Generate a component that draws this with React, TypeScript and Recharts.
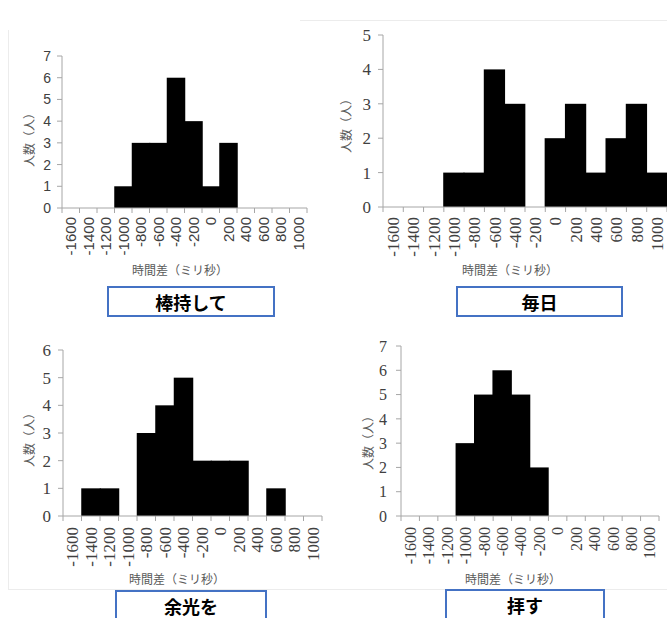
import React from "react";
import { Bar, BarChart, XAxis, YAxis } from "recharts";

const bins = ["-1600", "-1400", "-1200", "-1000", "-800", "-600", "-400", "-200", "0", "200", "400", "600", "800", "1000"];

const bouMochiCounts = [0, 0, 0, 1, 3, 3, 6, 4, 1, 3, 0, 0, 0, 0];
const mainichiCounts = [0, 0, 0, 1, 1, 4, 3, 0, 2, 3, 1, 2, 3, 1];
const yokouCounts = [0, 1, 1, 0, 3, 4, 5, 2, 2, 2, 0, 1, 0, 0];
const haisuCounts = [0, 0, 0, 3, 5, 6, 5, 2, 0, 0, 0, 0, 0, 0];

const titles = ["棒持して", "毎日", "余光を", "拝す"];
const xLabel = "時間差（ミリ秒）";
const yLabel = "人数（人）";

const SANS = "'Liberation Sans', Arial, sans-serif";
const SERIF = "'Liberation Serif', 'Times New Roman', serif";
const CJK = "'Noto Sans CJK JP', sans-serif";
const AXIS = "#a6a6a6";
const TEXT = "#404040";

type Panel = {
  counts: number[];
  yMax: number;
  title: string;
  left: number;
  top: number;
  width: number;
  height: number;
  margin: { top: number; right: number; bottom: number; left: number };
  yWidth: number;
  font: string;
  xSize: number;
  ySize: number;
  xGap: number;
  yMargin: number;
  yLab: [number, number];
  xLab: [number, number];
  box: [number, number, number, number];
};

const panels: Panel[] = [
  {
    counts: bouMochiCounts, yMax: 7, title: titles[0],
    left: 0, top: 0, width: 330, height: 300,
    margin: { top: 56, right: 23, bottom: 32, left: 0 }, yWidth: 62,
    font: SANS, xSize: 15, ySize: 14, xGap: 9, yMargin: 6,
    yLab: [28, 137], xLab: [180, 269], box: [107, 286, 168, 31],
  },
  {
    counts: mainichiCounts, yMax: 5, title: titles[1],
    left: 330, top: 0, width: 337, height: 300,
    margin: { top: 35, right: 0, bottom: 33, left: 0 }, yWidth: 53,
    font: SERIF, xSize: 17, ySize: 17, xGap: 10, yMargin: 7,
    yLab: [345, 123], xLab: [510, 269], box: [456, 286, 167, 31],
  },
  {
    counts: yokouCounts, yMax: 6, title: titles[2],
    left: 0, top: 309, width: 330, height: 309,
    margin: { top: 41, right: 8, bottom: 42, left: 0 }, yWidth: 63,
    font: SERIF, xSize: 17, ySize: 17, xGap: 11, yMargin: 7,
    yLab: [28, 437], xLab: [177, 578], box: [115, 590, 152, 31],
  },
  {
    counts: haisuCounts, yMax: 7, title: titles[3],
    left: 330, top: 309, width: 337, height: 309,
    margin: { top: 37, right: 8, bottom: 42, left: 0 }, yWidth: 71,
    font: SERIF, xSize: 16, ySize: 16, xGap: 11, yMargin: 9,
    yLab: [367, 440], xLab: [513, 578], box: [445, 589, 160, 31],
  },
];

function XTick(props: any) {
  const { x, y, payload, index, bw, font, size, gap } = props;
  const last = index === bins.length - 1;
  return (
    <g>
      <line x1={x - bw / 2} x2={x - bw / 2} y1={y} y2={y + 5} stroke={AXIS} />
      {last && <line x1={x + bw / 2} x2={x + bw / 2} y1={y} y2={y + 5} stroke={AXIS} />}
      <text
        x={x}
        y={y + gap}
        transform={`rotate(-90 ${x} ${y + gap})`}
        textAnchor="end"
        dy="0.35em"
        fontFamily={font}
        fontSize={size}
        fill={TEXT}
      >
        {payload.value}
      </text>
    </g>
  );
}

// full-width histogram bin, centred on the library's band position
function BinShape(props: any) {
  const { x, y, width, height, bw } = props;
  if (!height || height <= 0) return null;
  const cx = x + width / 2;
  return <rect x={cx - bw / 2 - 0.5} y={y} width={bw + 1} height={height} fill="#000" />;
}

function Histogram({ p }: { p: Panel }) {
  const data = bins.map((b, i) => ({ bin: b, count: p.counts[i] }));
  const plotW = p.width - p.margin.left - p.margin.right - p.yWidth;
  const bw = plotW / bins.length;
  const yTicks = Array.from({ length: p.yMax + 1 }, (_, i) => i);
  return (
    <div style={{ position: "absolute", left: p.left, top: p.top }}>
      <BarChart width={p.width} height={p.height} data={data} margin={p.margin} barCategoryGap={0} barGap={0}>
        <XAxis
          dataKey="bin"
          interval={0}
          height={60}
          stroke={AXIS}
          tickLine={false}
          tickSize={0}
          tickMargin={0}
          tick={<XTick bw={bw} font={p.font} size={p.xSize} gap={p.xGap} />}
        />
        <YAxis
          type="number"
          domain={[0, p.yMax]}
          ticks={yTicks}
          width={p.yWidth}
          stroke={AXIS}
          tickSize={5}
          tickMargin={p.yMargin}
          tick={{ fill: TEXT, fontFamily: p.font, fontSize: p.ySize }}
        />
        <Bar dataKey="count" fill="#000" shape={<BinShape bw={bw} />} isAnimationActive={false} />
      </BarChart>
    </div>
  );
}

export default function App() {
  return (
    <div style={{ position: "absolute", left: 0, top: 0, width: 667, height: 618, overflow: "hidden", background: "#fff" }}>
      <div style={{ position: "absolute", left: 8, top: 30, width: 1, height: 560, background: "#ececec" }} />
      <div style={{ position: "absolute", left: 8, top: 589, width: 659, height: 1, background: "#ececec" }} />
      <div style={{ position: "absolute", left: 300, top: 20, width: 367, height: 1, background: "#ececec" }} />
      {panels.map((p) => (
        <Histogram key={p.title} p={p} />
      ))}
      {panels.map((p) => (
        <React.Fragment key={p.title + "-labels"}>
          <div
            style={{
              position: "absolute", left: p.yLab[0], top: p.yLab[1],
              transform: "translate(-50%, -50%) rotate(-90deg)",
              whiteSpace: "nowrap", fontFamily: CJK, fontSize: 12, color: "#595959",
            }}
          >
            {yLabel}
          </div>
          <div
            style={{
              position: "absolute", left: p.xLab[0], top: p.xLab[1],
              transform: "translate(-50%, -50%)",
              whiteSpace: "nowrap", fontFamily: CJK, fontSize: 12, color: "#595959",
            }}
          >
            {xLabel}
          </div>
          <div
            style={{
              position: "absolute", left: p.box[0], top: p.box[1], width: p.box[2], height: p.box[3],
              boxSizing: "border-box", border: "2px solid #4472c4", background: "#fff",
              display: "flex", alignItems: "center", justifyContent: "center",
              fontFamily: CJK, fontWeight: 700, fontSize: 18, lineHeight: 1, color: "#000",
            }}
          >
            {p.title}
          </div>
        </React.Fragment>
      ))}
    </div>
  );
}
